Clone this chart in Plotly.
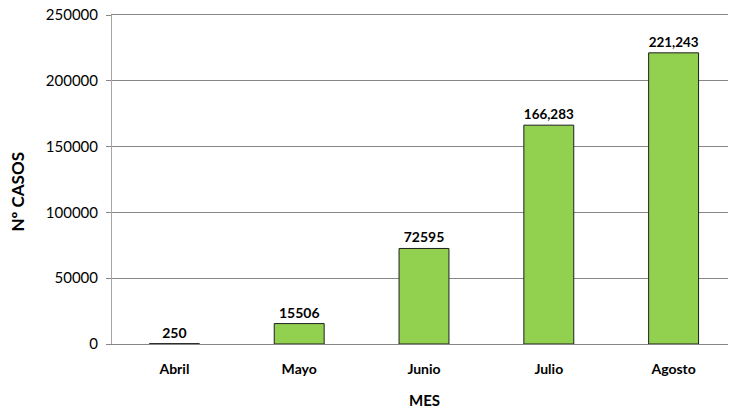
import plotly.graph_objects as go

meses = ["Abril", "Mayo", "Junio", "Julio", "Agosto"]
casos = [250, 15506, 72595, 166283, 221243]
etiquetas = ["250", "15506", "72595", "166,283", "221,243"]
y_ticks = [0, 50000, 100000, 150000, 200000, 250000]

GRID = "#868686"
BAR = "#92D050"
FONT = "Lato, 'Liberation Sans', sans-serif"

fig = go.Figure(
    go.Bar(
        x=meses, y=casos, text=etiquetas, textposition="outside",
        textfont=dict(family=FONT, size=14, color="black", weight="bold"),
        marker=dict(color=BAR, line=dict(color="#1f1f1f", width=1)),
        cliponaxis=False,
    )
)

# page body adds an 8px margin, so the figure is sized to fit inside the window
fig.update_layout(
    width=728, height=402,
    margin=dict(l=104, r=0, t=7, b=66),
    paper_bgcolor="white", plot_bgcolor="white",
    bargap=0.6, showlegend=False,
    font=dict(family=FONT, size=14, color="black"),
)
# mirrored x line doubles as the top (250000) gridline, which plotly drops at the edge
fig.update_xaxes(
    tickfont=dict(size=14, weight="bold"), ticklabelstandoff=12,
    showline=True, mirror=True, linecolor=GRID, linewidth=1, ticks="",
    automargin=False,
)
fig.update_yaxes(
    range=[0, 250000], tickmode="array", tickvals=y_ticks,
    ticktext=[str(v) for v in y_ticks], ticklabeloverflow="allow",
    showgrid=True, gridcolor=GRID, gridwidth=1,
    showline=True, linecolor="#a6a6a6", linewidth=1,
    ticks="outside", ticklen=5, tickcolor=GRID, ticklabelstandoff=5,
    zeroline=False, tickfont=dict(size=15), automargin=False,
)

# axis titles
fig.add_annotation(
    text="MES", xref="paper", yref="paper", x=0.5, y=0,
    xanchor="center", yanchor="middle", yshift=-56, showarrow=False,
    font=dict(size=15, weight="bold"),
)
fig.add_annotation(
    text="Nº CASOS", xref="paper", yref="paper", x=0, y=0.5,
    xanchor="center", yanchor="middle", xshift=-95, yshift=-13,
    textangle=-90, showarrow=False, font=dict(size=17, weight="bold"),
)

fig.write_html("out.html")
